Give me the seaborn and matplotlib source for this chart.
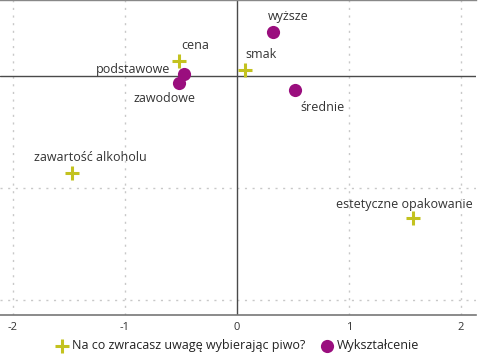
import matplotlib
matplotlib.use("Agg")
import matplotlib.pyplot as plt
import seaborn as sns
import pandas as pd

# --- data ---
attr_labels = ["cena", "smak", "zawartość alkoholu", "estetyczne opakowanie"]
attr_x = [-0.52, 0.07, -1.47, 1.57]
attr_y = [0.13, 0.05, -0.87, -1.27]

edu_labels = ["wyższe", "podstawowe", "zawodowe", "średnie"]
edu_x = [0.32, -0.47, -0.52, 0.52]
edu_y = [0.39, 0.02, -0.06, -0.125]

series_names = ["Na co zwracasz uwagę wybierając piwo?", "Wykształcenie"]
xticks = [-2, -1, 0, 1, 2]

# label offsets in pixels (dx, dy up), horizontal alignment
offsets = {
    "cena": (16, 16, "center"),
    "smak": (16, 16, "center"),
    "zawartość alkoholu": (18, 16, "center"),
    "estetyczne opakowanie": (-8, 14, "center"),
    "wyższe": (15, 16, "center"),
    "podstawowe": (-14, 4, "right"),
    "zawodowe": (-14, -16, "center"),
    "średnie": (27, -17, "center"),
}

YELLOW = "#c3c21f"
PURPLE = "#9a0e7e"

sns.set_theme(style="white")
plt.rcParams["font.family"] = ["Open Sans", "DejaVu Sans"]

df_a = pd.DataFrame({"x": attr_x, "y": attr_y, "label": attr_labels, "grp": series_names[0]})
df_e = pd.DataFrame({"x": edu_x, "y": edu_y, "label": edu_labels, "grp": series_names[1]})

fig = plt.figure(figsize=(4.8, 3.6), dpi=100)
ax = fig.add_axes([0.0, 0.125, 476 / 480, 0.875])

ax.set_xlim(-2.116, 2.134)
ax.set_ylim(-2.134, 0.679)

for v in [-2, -1, 1, 2]:
    ax.axvline(v, color="#c8c8c8", lw=1.0, ls=(0, (1.5, 4)), zorder=0)
for v in [-1, -2]:
    ax.axhline(v, color="#c8c8c8", lw=1.0, ls=(0, (1.5, 4)), zorder=0)
ax.axvline(0, color="#4a4a4a", lw=1.0, zorder=1)
ax.axhline(0, color="#4a4a4a", lw=1.0, zorder=1)

sns.scatterplot(data=df_a, x="x", y="y", ax=ax, marker="+", color=YELLOW,
                s=110, linewidth=2.2, label=series_names[0], zorder=3)
sns.scatterplot(data=df_e, x="x", y="y", ax=ax, marker="o", color=PURPLE,
                s=90, linewidth=0, label=series_names[1], zorder=3)

for df in (df_a, df_e):
    for _, r in df.iterrows():
        dx, dy, ha = offsets[r["label"]]
        ax.annotate(r["label"], (r["x"], r["y"]), xytext=(dx * 0.72, dy * 0.72),
                    textcoords="offset points", ha=ha, va="center",
                    fontsize=9, color="#333333")

ax.set_xticks(xticks)
ax.set_xticklabels([str(t) for t in xticks], fontsize=8, color="#333333")
ax.set_yticks([])
ax.tick_params(axis="x", length=0, pad=5)
ax.set_xlabel("")
ax.set_ylabel("")

for s in ["left", "right"]:
    ax.spines[s].set_visible(False)
ax.spines["top"].set_color("#888888")
ax.spines["top"].set_linewidth(1.0)
ax.spines["bottom"].set_color("#777777")
ax.spines["bottom"].set_linewidth(1.2)

ax.get_legend().remove()
h, l = ax.get_legend_handles_labels()
fig.legend(h, l, loc="center", bbox_to_anchor=(0.495, 14 / 360), ncol=2,
           frameon=False, fontsize=9, handletextpad=0.25, columnspacing=1.3,
           markerscale=1.0, handlelength=1.0, labelcolor="#222222")

fig.savefig("out.png", dpi=100)
